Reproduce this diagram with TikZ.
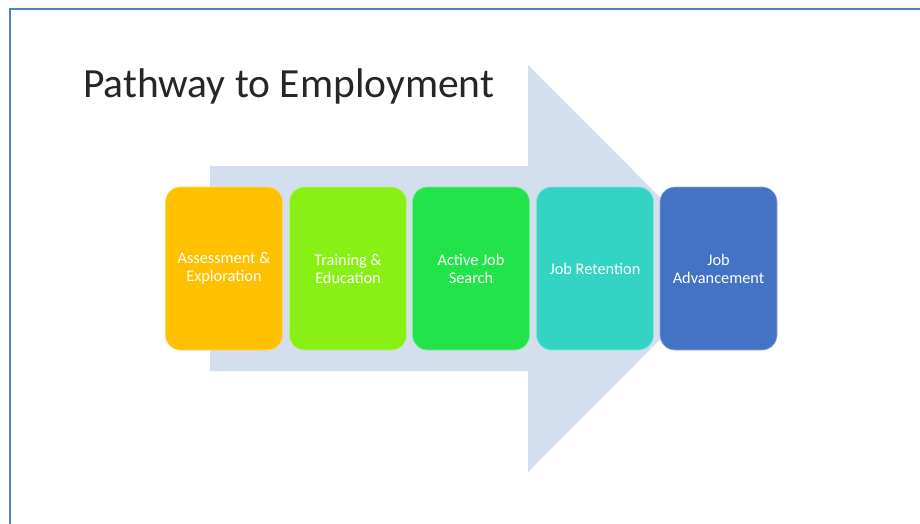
\documentclass[tikz,border=0pt]{standalone}
\usepackage{fontspec}
\setmainfont{Carlito}
\definecolor{frameblue}{HTML}{4F81BD}
\definecolor{arrowfill}{HTML}{D3DEEE}
\definecolor{cA}{HTML}{FFC000}
\definecolor{cB}{HTML}{88F015}
\definecolor{cC}{HTML}{22E34A}
\definecolor{cD}{HTML}{33D4C4}
\definecolor{cE}{HTML}{4472C4}
\definecolor{titlegray}{HTML}{262626}
\tikzset{
  stagebox/.style={rectangle, rounded corners=15pt, minimum width=117pt, minimum height=163pt,
    line width=0.6pt, text=white, align=center, inner sep=2pt,
    font=\fontsize{16.3}{18}\selectfont},
}
\begin{document}
\begin{tikzpicture}[x=1pt,y=-1pt]
\useasboundingbox (0,0) rectangle (920,524);
\fill[white] (0,0) rectangle (920,524);
% frame
\draw[frameblue, line width=2.4pt] (10,525) -- (10,9) -- (921,9);
% big arrow
\fill[arrowfill] (210,166) -- (528,166) -- (528,65) -- (731,268.5) -- (528,472) -- (528,371) -- (210,371) -- cycle;
% title
\node[anchor=base west, inner sep=0pt, text=titlegray, font=\fontsize{41.5}{48}\selectfont] (title) at (83,98) {Pathway to Employment};
% stages
\node[stagebox, fill=cA, draw=cA!60!white] (s1) at (224,268.5) {Assessment \&\\Exploration};
\node[stagebox, fill=cB, draw=cB!60!white] (s2) at (348,268.5) {Training \&\\Education};
\node[stagebox, fill=cC, draw=cC!60!white] (s3) at (471,268.5) {Active Job\\Search};
\node[stagebox, fill=cD, draw=cD!60!white] (s4) at (595,268.5) {Job Retention};
\node[stagebox, fill=cE, draw=cE!60!white] (s5) at (718.5,268.5) {Job\\Advancement};
\end{tikzpicture}
\end{document}
